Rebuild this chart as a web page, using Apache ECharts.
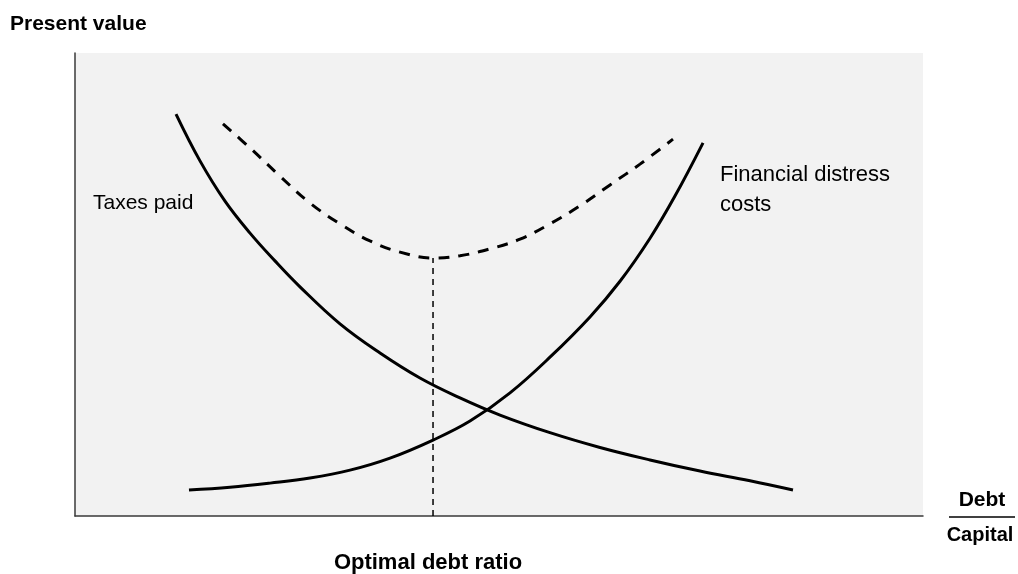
<!DOCTYPE html>
<html>
<head>
<meta charset="utf-8">
<title>Optimal debt ratio</title>
<script src="https://cdn.jsdelivr.net/npm/echarts@6/dist/echarts.min.js"></script>
<style>
  html, body { margin: 0; padding: 0; background: #fff; }
  #chart { width: 1018px; height: 574px; }
</style>
</head>
<body>
<div id="chart"></div>
<script>
// debt/capital (0-100) vs present value (0-100)
var taxesX = [11.91, 14.74, 17.69, 20.64, 23.58, 26.53, 31.25, 35.97, 40.68, 45.4, 50.12, 56.01, 61.91, 67.81, 73.7, 79.6, 84.67]
var taxesY = [86.8, 76.7, 68.0, 61.1, 55.1, 49.5, 41.5, 35.2, 29.8, 25.5, 21.8, 18.0, 14.8, 12.1, 9.7, 7.6, 5.6]

var distressX = [13.44, 18.28, 23.0, 27.71, 32.43, 37.15, 42.22, 46.58, 51.3, 56.01, 60.73, 64.27, 67.81, 70.75, 74.06]
var distressY = [5.6, 6.2, 7.1, 8.2, 9.9, 12.5, 16.4, 20.5, 26.6, 34.3, 43.0, 50.7, 60.0, 69.1, 80.6]

var totalX = [17.45, 20.64, 24.17, 27.71, 31.25, 34.79, 38.33, 42.22, 45.4, 48.94, 52.48, 56.01, 59.55, 63.09, 66.63, 70.52]
var totalY = [84.7, 79.5, 73.4, 67.6, 63.1, 59.4, 57.0, 55.7, 56.2, 57.7, 59.8, 63.1, 67.0, 71.5, 76.0, 81.4]

var optimalX = [42.22, 42.22]
var optimalY = [0, 55.7]

function pairs(xs, ys) {
  return xs.map(function (x, i) { return [x, ys[i]] })
}

var chart = echarts.init(document.getElementById('chart'), null, { renderer: 'canvas' })
var font = '"Liberation Sans"'

function curve(name, xs, ys, dash) {
  return {
    name: name,
    type: 'line',
    smooth: 0.4,
    symbol: 'none',
    data: pairs(xs, ys),
    lineStyle: { color: '#000', width: 3, type: dash || 'solid' }
  }
}

chart.setOption({
  animation: false,
  grid: {
    left: 75,
    right: 95,
    top: 53,
    bottom: 58,
    show: true,
    backgroundColor: '#f2f2f2',
    borderWidth: 0
  },
  xAxis: {
    type: 'value',
    min: 0,
    max: 100,
    axisLine: { show: true, lineStyle: { color: '#3a3a3a', width: 1.5 } },
    axisTick: { show: false },
    axisLabel: { show: false },
    splitLine: { show: false }
  },
  yAxis: {
    type: 'value',
    min: 0,
    max: 100,
    axisLine: { show: true, lineStyle: { color: '#3a3a3a', width: 1.5 } },
    axisTick: { show: false },
    axisLabel: { show: false },
    splitLine: { show: false }
  },
  series: [
    curve('Taxes paid', taxesX, taxesY),
    curve('Financial distress costs', distressX, distressY),
    curve('Total', totalX, totalY, [11, 9]),
    {
      name: 'Optimal',
      type: 'line',
      symbol: 'none',
      data: pairs(optimalX, optimalY),
      lineStyle: { color: '#000', width: 1.5, type: [6, 5] }
    }
  ],
  graphic: [
    {
      type: 'text', x: 10, y: 24,
      style: { text: 'Present value', font: 'bold 21px ' + font, fill: '#000', verticalAlign: 'middle' }
    },
    {
      type: 'text', x: 93, y: 203,
      style: { text: 'Taxes paid', font: '21px ' + font, fill: '#000', verticalAlign: 'middle' }
    },
    {
      type: 'text', x: 720, y: 175,
      style: { text: 'Financial distress', font: '22px ' + font, fill: '#000', verticalAlign: 'middle' }
    },
    {
      type: 'text', x: 720, y: 205,
      style: { text: 'costs', font: '22px ' + font, fill: '#000', verticalAlign: 'middle' }
    },
    {
      type: 'text', x: 982, y: 500,
      style: { text: 'Debt', font: 'bold 21px ' + font, fill: '#000', align: 'center', verticalAlign: 'middle' }
    },
    {
      type: 'line', shape: { x1: 949, y1: 517, x2: 1015, y2: 517 },
      style: { stroke: '#000', lineWidth: 1.5 }
    },
    {
      type: 'text', x: 980, y: 535,
      style: { text: 'Capital', font: 'bold 20px ' + font, fill: '#000', align: 'center', verticalAlign: 'middle' }
    },
    {
      type: 'text', x: 428, y: 563,
      style: { text: 'Optimal debt ratio', font: 'bold 22px ' + font, fill: '#000', align: 'center', verticalAlign: 'middle' }
    }
  ]
})
</script>
</body>
</html>
